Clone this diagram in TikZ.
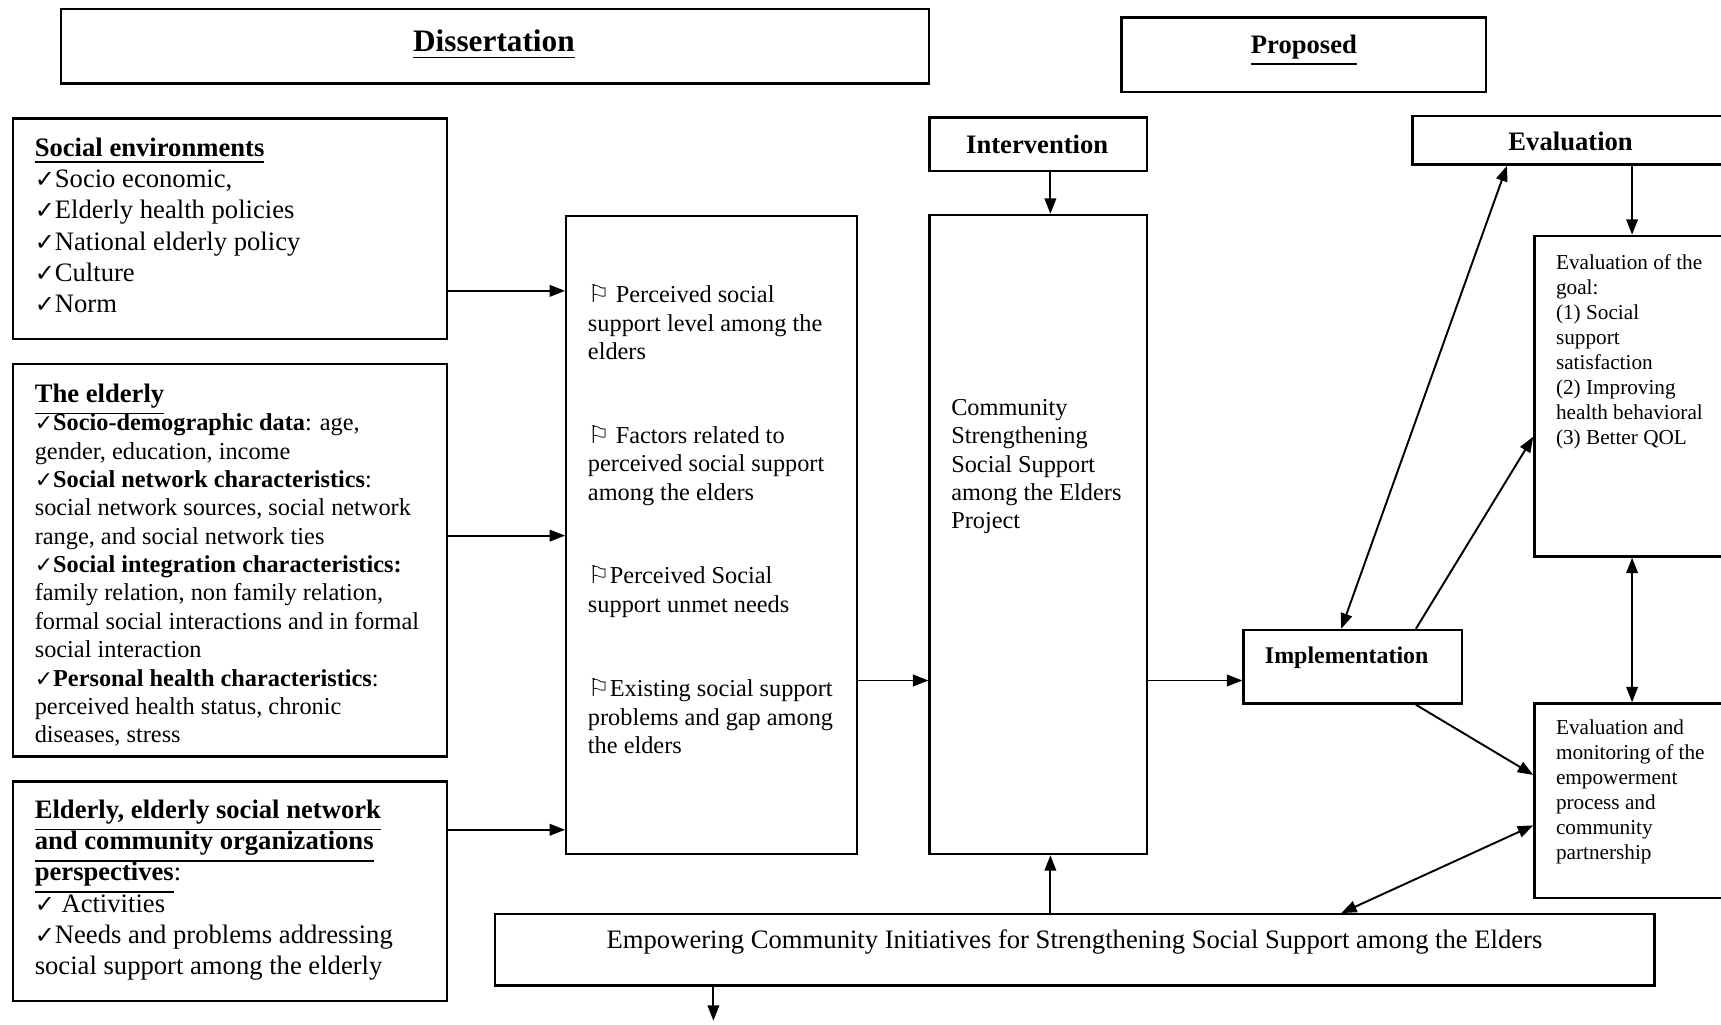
\documentclass[tikz,border=0pt]{standalone}
\usepackage{fontspec}
\usepackage{graphicx}
\setmainfont{Liberation Serif}
\newfontfamily\symfont{DejaVu Sans}
\usetikzlibrary{arrows.meta,calc}
\newcommand{\ckm}{{\symfont\scalebox{0.9}{✓}}}
\newcommand{\flg}{{\symfont\scalebox{1.0}{⚐}}}
\newcommand{\fsA}{\fontsize{6.9pt}{8.1pt}\selectfont\lineskiplimit=-6pt\relax}
\newcommand{\fsB}{\fontsize{6.3pt}{7.35pt}\selectfont\lineskiplimit=-6pt\relax}
\newcommand{\fsC}{\fontsize{5.5pt}{6.5pt}\selectfont\lineskiplimit=-6pt\relax}
\tikzset{
  box/.style={draw, line width=0.6pt, inner sep=0pt, rectangle},
  txt/.style={inner sep=0pt, anchor=north west, align=left},
  ctxt/.style={inner sep=0pt, anchor=center, align=center},
  arr/.style={-{Triangle[length=4pt,width=3pt]}, line width=0.5pt},
  darr/.style={{Triangle[length=4pt,width=3pt]}-{Triangle[length=4pt,width=3pt]}, line width=0.5pt},
}
\begin{document}
\begin{tikzpicture}[x=0.01cm,y=-0.01cm]
\useasboundingbox (0,0) rectangle (1568,933);
% ---------- boxes ----------
\node[box,minimum width=7.90cm,minimum height=0.68cm] (dis) at (451,42) {};
\node[box,minimum width=3.32cm,minimum height=0.68cm] (prop) at (1188,50) {};
\node[box,minimum width=3.95cm,minimum height=2.01cm] (se) at (209.5,208.5) {};
\node[box,minimum width=3.95cm,minimum height=3.57cm] (eld) at (209.5,510.5) {};
\node[box,minimum width=3.95cm,minimum height=2.00cm] (per) at (209.5,812) {};
\node[box,minimum width=2.65cm,minimum height=5.81cm] (mid) at (648.5,487.5) {};
\node[box,minimum width=1.98cm,minimum height=5.82cm] (proj) at (946,487) {};
\node[box,minimum width=1.98cm,minimum height=0.49cm] (int) at (946,131.5) {};
\node[box,minimum width=2.93cm,minimum height=0.44cm] (eval) at (1433.5,128) {};
\node[box,minimum width=1.82cm,minimum height=2.92cm] (goal) at (1489,361) {};
\node[box,minimum width=1.99cm,minimum height=0.67cm] (imp) at (1232.5,607.5) {};
\node[box,minimum width=1.82cm,minimum height=1.77cm] (mon) at (1489,729.5) {};
\node[box,minimum width=10.56cm,minimum height=0.65cm] (emp) at (979,865.5) {};
% ---------- texts ----------
\node[ctxt,font=\fontsize{8.1pt}{9pt}\selectfont\bfseries] (tdis) at (450,41) {\underline{Dissertation}};
\node[ctxt,font=\fsA\bfseries] (tprop) at (1188,46) {\underline{Proposed}};
\node[ctxt,font=\fsA\bfseries] (tint) at (945,132) {Intervention};
\node[ctxt,font=\fsA\bfseries] (teval) at (1431,129) {Evaluation};
\node[ctxt,font=\fontsize{6.2pt}{7pt}\selectfont\bfseries] (timp) at (1227,599) {Implementation};
\node[ctxt,font=\fsA] (temp) at (979,858) {Empowering Community Initiatives for Strengthening Social Support among the Elders};

\node[txt,font=\fsA] (tse) at (31,125) {\textbf{\underline{Social environments}}\\
\ckm Socio economic,\\
\ckm Elderly health policies\\
\ckm National elderly policy\\
\ckm Culture\\
\ckm Norm};

\node[txt,font=\fsB] (teld) at (31,349) {{\fsA\textbf{\underline{The elderly}}}\\
\ckm\textbf{Socio-demographic data}: age,\\
gender, education, income\\
\ckm\textbf{Social network characteristics}:\\
social network sources, social network\\
range, and social network ties\\
\ckm\textbf{Social integration characteristics:}\\
family relation, non family relation,\\
formal social interactions and in formal\\
social interaction\\
\ckm\textbf{Personal health characteristics}:\\
perceived health status, chronic\\
diseases, stress};

\node[txt,font=\fsA] (tper) at (31,728) {\textbf{\underline{Elderly, elderly social network}}\\
\textbf{\underline{and community organizations}}\\
\textbf{\underline{perspectives}}:\\
\ckm\ Activities\\
\ckm Needs and problems addressing\\
social support among the elderly};

\node[txt,font=\fsB] (m1) at (535,259) {\flg\ Perceived social\\ support level among the\\ elders};
\node[txt,font=\fsB] (m2) at (535,387) {\flg\ Factors related to\\ perceived social support\\ among the elders};
\node[txt,font=\fsB] (m3) at (535,515) {\flg Perceived Social\\ support unmet needs};
\node[txt,font=\fsB] (m4) at (535,618) {\flg Existing social support\\ problems and gap among\\ the elders};

\node[txt,font=\fsB] (tproj) at (866,363) {Community\\ Strengthening\\ Social Support\\ among the Elders\\ Project};

\node[txt,font=\fsC] (tgoal) at (1417,231) {Evaluation of the\\ goal:\\ (1) Social\\ support\\ satisfaction\\ (2) Improving\\ health behavioral\\ (3) Better QOL};

\node[txt,font=\fsC] (tmon) at (1417,655) {Evaluation and\\ monitoring of the\\ empowerment\\ process and\\ community\\ partnership};
% ---------- connectors ----------
\draw[arr] (se.east |- 0,265) -- (mid.west |- 0,265);
\draw[arr] (eld.east |- 0,488) -- (mid.west |- 0,488);
\draw[arr] (per.east |- 0,756) -- (mid.west |- 0,756);
\draw[arr] (mid.east |- 0,620) -- (proj.west |- 0,620);
\draw[arr] (int.south -| 957,0) -- (proj.north -| 957,0);
\draw[arr] (emp.north -| 957,0) -- (proj.south -| 957,0);
\draw[arr] (proj.east |- 0,620) -- (imp.west |- 0,620);
\draw[darr] (imp.north -| 1222,0) -- (eval.south -| 1373,0);
\draw[arr] (imp.north -| 1290,0) -- (goal.west |- 0,398);
\draw[arr] (imp.south -| 1290,0) -- (mon.west |- 0,706);
\draw[arr] (eval.south -| 1487,0) -- (goal.north -| 1487,0);
\draw[darr] (goal.south -| 1487,0) -- (mon.north -| 1487,0);
\draw[darr] (emp.north -| 1222,0) -- (mon.west |- 0,752);
\coordinate (down) at (650,930);
\draw[arr] (emp.south -| 650,0) -- (down);
\end{tikzpicture}
\end{document}
